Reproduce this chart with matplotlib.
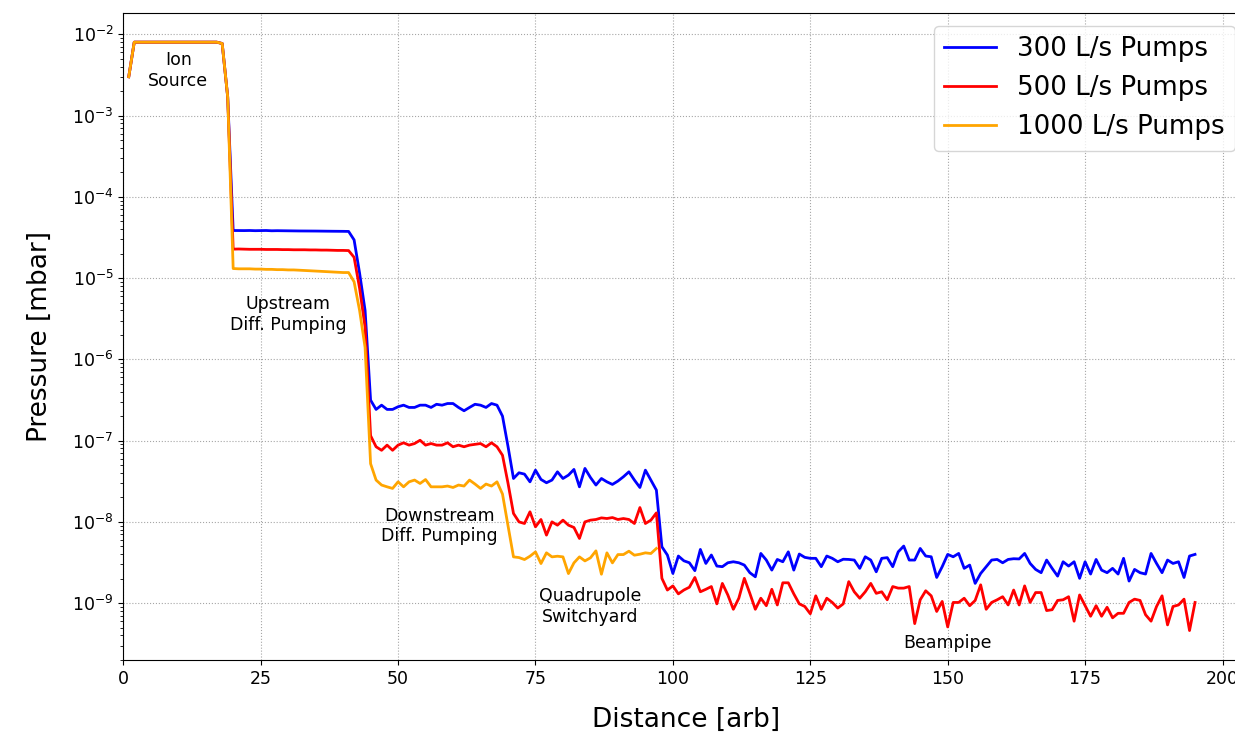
import numpy as np
import matplotlib
matplotlib.use("Agg")
import matplotlib.pyplot as plt

# x = 1..19, identical for all three pump sizes
ion_source = [3.0e-3] + [8.0e-3] * 16 + [7.7e-3, 1.7e-3]

# x = 20..44 (units 1e-5)
blue_upstream = [3.85, 3.84, 3.84, 3.85, 3.83, 3.84, 3.85, 3.82, 3.83, 3.82, 3.81,
                 3.81, 3.80, 3.80, 3.79, 3.79, 3.78, 3.78, 3.77, 3.77, 3.76, 3.75,
                 2.95, 1.15, 0.40]
red_upstream = [2.27, 2.28, 2.27, 2.26, 2.26, 2.26, 2.25, 2.25, 2.25, 2.24, 2.24,
                2.23, 2.23, 2.23, 2.22, 2.22, 2.21, 2.21, 2.20, 2.19, 2.19, 2.18,
                1.80, 0.75, 0.25]
orange_upstream = [1.31, 1.30, 1.30, 1.30, 1.29, 1.29, 1.28, 1.28, 1.27, 1.27, 1.26,
                   1.26, 1.25, 1.24, 1.23, 1.22, 1.21, 1.20, 1.19, 1.18, 1.17, 1.17,
                   0.90, 0.40, 0.14]

# x = 45..70
blue_downstream = [3.15, 2.42, 2.73, 2.42, 2.42, 2.61, 2.73, 2.56, 2.56, 2.73, 2.73,
                   2.56, 2.80, 2.73, 2.86, 2.86, 2.56, 2.33, 2.56, 2.80, 2.73, 2.56,
                   2.86, 2.73, 2.00, 0.85]  # 1e-7
red_downstream = [11.5, 8.4, 7.6, 8.8, 7.6, 8.8, 9.4, 8.8, 9.2, 10.1, 8.8, 9.2, 8.8,
                  8.8, 9.4, 8.4, 8.8, 8.4, 8.8, 9.0, 9.2, 8.4, 9.4, 8.4, 6.6, 3.0]  # 1e-8
orange_downstream = [5.2, 3.27, 2.84, 2.70, 2.58, 3.11, 2.70, 3.11, 3.27, 2.97, 3.32,
                     2.70, 2.70, 2.70, 2.76, 2.65, 2.84, 2.76, 3.27, 2.92, 2.58, 2.92,
                     2.76, 3.11, 2.2, 0.9]  # 1e-8

# x = 71..97 (units 1e-9)
blue_switchyard = [34.2, 40.2, 38.7, 31.1, 43.3, 33.3, 30.3, 32.7, 41.3, 34.2, 37.6,
                   44.2, 27.0, 45.5, 35.2, 28.4, 34.2, 31.1, 28.9, 31.8, 35.9, 41.3,
                   32.7, 26.5, 43.3, 32.7, 24.6]
red_switchyard = [12.7, 10.0, 9.55, 13.3, 8.69, 10.7, 6.87, 10.0, 9.11, 10.5, 9.11,
                  8.53, 6.25, 10.0, 10.5, 10.7, 11.2, 11.0, 11.3, 10.7, 11.0, 10.7,
                  9.55, 15.0, 9.55, 10.5, 12.9]
orange_switchyard = [3.71, 3.64, 3.44, 3.78, 4.27, 3.07, 4.16, 3.71, 3.78, 3.71, 2.31,
                     3.13, 3.71, 3.31, 3.61, 4.40, 2.27, 4.16, 3.13, 3.96, 3.96, 4.36,
                     3.89, 4.00, 4.16, 4.08, 4.71]

# x = 98..195 (units 1e-9), 1000 L/s run stops at the switchyard
blue_beampipe = [4.94, 3.91, 2.32, 3.80, 3.32, 3.14, 2.51, 4.58, 3.08, 3.91, 2.86,
                 2.81, 3.14, 3.23, 3.14, 2.94, 2.37, 2.11, 4.09, 3.39, 2.55, 3.45,
                 3.23, 4.28, 2.55, 4.02, 3.66, 3.56, 3.56, 2.81, 3.80,
                 3.56, 3.23, 3.47, 3.45, 3.39, 2.68, 3.72, 3.39, 2.43, 3.56, 3.63,
                 2.81, 4.28, 5.04, 3.39, 3.39, 4.71, 3.80, 3.72, 2.07, 2.81, 3.98,
                 3.72, 4.09, 2.68, 2.94, 1.75, 2.32, 2.81, 3.39, 3.45, 3.14, 3.45,
                 3.52, 3.50, 4.09, 3.08, 2.60, 2.37, 3.39, 2.68, 2.15, 3.23, 2.86,
                 3.23, 2.02, 3.23, 2.28, 3.45, 2.55, 2.37, 2.68, 2.28, 3.56, 1.87,
                 2.60, 2.37, 2.28, 4.09, 3.08, 2.37, 3.39, 3.08, 3.23, 2.07, 3.80, 3.98]
red_beampipe = [2.02, 1.45, 1.63, 1.30, 1.45, 1.57, 2.07, 1.38, 1.48, 1.60, 0.98,
                1.75, 1.26, 0.84, 1.15, 2.02, 1.32, 0.84, 1.15, 0.93, 1.48, 0.95,
                1.78, 1.78, 1.30, 0.98, 0.91, 0.74, 1.23, 0.84, 1.15,
                1.02, 0.87, 0.98, 1.84, 1.38, 1.15, 1.38, 1.75, 1.32, 1.38, 1.10,
                1.60, 1.53, 1.53, 1.60, 0.56, 1.10, 1.42, 1.23, 0.79, 1.05, 0.51,
                1.02, 1.02, 1.15, 0.93, 1.08, 1.68, 0.84, 1.02, 1.10, 1.20, 0.95,
                1.45, 0.95, 1.63, 1.02, 1.35, 1.35, 0.81, 0.83, 1.08, 1.10, 1.20,
                0.60, 1.26, 0.93, 0.69, 0.93, 0.69, 0.89, 0.66, 0.75, 0.75, 1.02,
                1.12, 1.08, 0.72, 0.60, 0.91, 1.23, 0.54, 0.91, 0.95, 1.12, 0.46, 1.02]

labels = ["300 L/s Pumps", "500 L/s Pumps", "1000 L/s Pumps"]
colors = ["blue", "red", "orange"]

regions = ["Ion\nSource", "Upstream\nDiff. Pumping", "Downstream\nDiff. Pumping",
           "Quadrupole\nSwitchyard", "Beampipe"]
region_x = [10, 30, 57.5, 85, 150]
region_y = [3.6e-3, 3.6e-6, 8.9e-9, 9.0e-10, 3.2e-10]


def build(up, down, down_unit, switch, beam=None):
    vals = (list(ion_source) + [v * 1e-5 for v in up] + [v * down_unit for v in down]
            + [v * 1e-9 for v in switch])
    if beam is not None:
        vals += [v * 1e-9 for v in beam]
    return np.array(vals)


blue = build(blue_upstream, blue_downstream, 1e-7, blue_switchyard, blue_beampipe)
red = build(red_upstream, red_downstream, 1e-8, red_switchyard, red_beampipe)
orange = build(orange_upstream, orange_downstream, 1e-8, orange_switchyard)

fig = plt.figure(figsize=(12.35, 7.32), dpi=100)
ax = fig.add_axes([0.0998, 0.0984, 0.911, 0.8842])

for series, c, lab in zip([blue, red, orange], colors, labels):
    x = np.arange(1, len(series) + 1)
    ax.plot(x, series, color=c, linewidth=2, label=lab)

ax.set_yscale("log")
ax.set_xlim(0, 204.7)
ax.set_xticks(np.arange(0, 201, 25))
ax.grid(True, which="major", linestyle=":", color="gray", alpha=0.7)
ax.tick_params(labelsize=12.5)

for txt, tx, ty in zip(regions, region_x, region_y):
    ax.text(tx, ty, txt, ha="center", va="center", fontsize=12.5)

ax.set_xlabel("Distance [arb]", fontsize=19, labelpad=14)
ax.set_ylabel("Pressure [mbar]", fontsize=19, labelpad=14)
ax.legend(loc="upper right", fontsize=18.8)

fig.savefig("out.png", dpi=100)
